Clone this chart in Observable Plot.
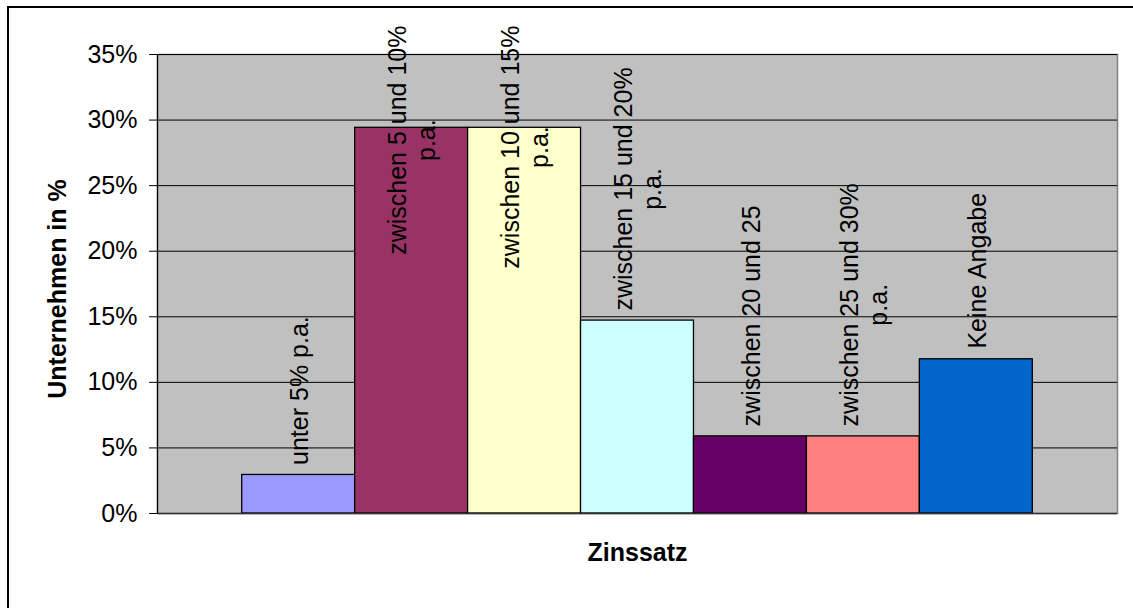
<!DOCTYPE html>
<html>
<head>
<meta charset="utf-8">
<script src="https://cdn.jsdelivr.net/npm/d3@7"></script>
<script src="https://cdn.jsdelivr.net/npm/@observablehq/plot@0.6"></script>
<style>
  html, body { margin: 0; padding: 0; background: #fff; }
  #chart svg { display: block; }
</style>
</head>
<body>
<div id="chart"></div>
<script>
// Data
const categories = [
  "unter 5% p.a.",
  "zwischen 5 und 10%\np.a.",
  "zwischen 10 und 15%\np.a.",
  "zwischen 15 und 20%\np.a.",
  "zwischen 20 und 25",
  "zwischen 25 und 30%\np.a.",
  "Keine Angabe"
];
const values = [0.0294, 0.2941, 0.2941, 0.1471, 0.0588, 0.0588, 0.1176];
const yTicks = [0, 0.05, 0.10, 0.15, 0.20, 0.25, 0.30, 0.35];
const yTitle = "Unternehmen in %";
const xTitle = "Zinssatz";
const palette = ["#9999FF", "#993366", "#FFFFCC", "#CCFFFF", "#660066", "#FF8080", "#0066CC"];

const W = 1133, H = 608;
const mL = 157, mR = 16, mT = 54, mB = 95;
const yMax = 0.35;
const fontSize = 25;
const font = "'Liberation Sans', Arial, Helvetica, sans-serif";

// measure label lengths so that multi-line labels can be centred line by line
const ctx = document.createElement("canvas").getContext("2d");
ctx.font = `${fontSize}px ${font}`;
const pxPerUnit = (H - mT - mB) / yMax;
const gap = 10;          // px between bar top and label
const topLimit = mT - 29; // labels may not go above the chart area

const data = categories.map((c, i) => {
  const lines = c.split("\n");
  const len = d3.max(lines, l => ctx.measureText(l).width);
  const barTop = H - mB - values[i] * pxPerUnit;
  let center = barTop - gap - len / 2;
  if (center - len / 2 < topLimit) center = topLimit + len / 2;
  return {category: c, value: values[i], labelY: (H - mB - center) / pxPerUnit};
});

const chart = Plot.plot({
  width: W,
  height: H,
  marginLeft: mL,
  marginRight: mR,
  marginTop: mT,
  marginBottom: mB,
  style: {fontFamily: font, fontSize: "25px", color: "black", background: "white", overflow: "visible"},
  x: {type: "band", domain: categories, paddingInner: 0, paddingOuter: 0.75, round: false, axis: null},
  y: {domain: [0, yMax], axis: null},
  color: {domain: categories, range: palette},
  marks: [
    Plot.frame({fill: "#C0C0C0", stroke: "#808080", strokeWidth: 1.5}),
    Plot.gridY(yTicks, {stroke: "black", strokeOpacity: 1, strokeWidth: 1}),
    Plot.axisY({ticks: yTicks, tickFormat: d3.format(".0%"), tickSize: 8, tickPadding: 12,
                fontSize: 25, label: null, stroke: "black"}),
    Plot.barY(data, {x: "category", y: "value", fill: "category", stroke: "black", strokeWidth: 1.3, inset: 0}),
    Plot.ruleY([0], {stroke: "#333", strokeWidth: 1.5}),
    Plot.frame({anchor: "left", stroke: "black", strokeWidth: 1.2}),
    // data labels (rotated, each line centred)
    Plot.text(data, {
      x: "category", y: "labelY", text: "category", rotate: -90,
      textAnchor: "middle", lineAnchor: "middle", lineHeight: 1.15,
      fontSize: fontSize, fill: "black"
    }),
    // axis titles
    Plot.text([yTitle], {frameAnchor: "left", rotate: -90, dx: -100, dy: 5,
      fontWeight: "bold", fontSize: 25, fill: "black", textAnchor: "middle"}),
    Plot.text([xTitle], {frameAnchor: "bottom", dy: 47,
      fontWeight: "bold", fontSize: 25, fill: "black", textAnchor: "middle"})
  ]
});

// outer chart-area border (left and top edges visible in the reference)
d3.select(chart).append("path")
  .attr("d", "M8,608V7H1133")
  .attr("fill", "none")
  .attr("stroke", "black")
  .attr("stroke-width", 2);

document.getElementById("chart").appendChild(chart);
</script>
</body>
</html>
